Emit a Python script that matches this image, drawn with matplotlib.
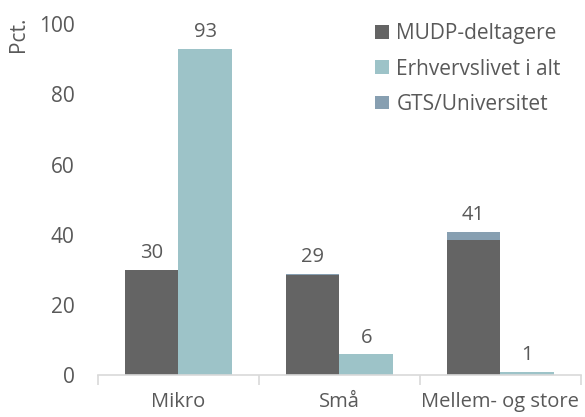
import numpy as np
import matplotlib.pyplot as plt

plt.rcParams["font.family"] = ["Open Sans", "DejaVu Sans"]

categories = ["Mikro", "Små", "Mellem- og store"]
mudp = [30, 28.5, 38.5]
gts = [0, 0.4, 2.3]
erhverv = [93, 6, 1]
mudp_labels = ["30", "29", "41"]
erhverv_labels = ["93", "6", "1"]

c_mudp = "#646464"
c_erhverv = "#9dc3c8"
c_gts = "#879fb1"
txt = "#595959"

fig = plt.figure(figsize=(5.85, 4.17), dpi=100)
ax = fig.add_axes([0.1675, 0.1, 0.8255, 0.8424])

x = np.arange(len(categories))
w = 1 / 3
ax.bar(x - w / 2, mudp, w, color=c_mudp, label="MUDP-deltagere")
ax.bar(x + w / 2, erhverv, w, color=c_erhverv, label="Erhvervslivet i alt")
ax.bar(x - w / 2, gts, w, bottom=mudp, color=c_gts, label="GTS/Universitet")

for i in range(len(categories)):
    top = mudp[i] + gts[i]
    ax.annotate(mudp_labels[i], (x[i] - w / 2, top), xytext=(0, 12),
                textcoords="offset points", ha="center", va="center",
                fontsize=14.5, color=txt)
    ax.annotate(erhverv_labels[i], (x[i] + w / 2, erhverv[i]), xytext=(0, 12),
                textcoords="offset points", ha="center", va="center",
                fontsize=14.5, color=txt)

ax.set_xlim(-0.5, 2.5)
ax.set_ylim(0, 100)
ax.set_yticks(range(0, 101, 20))
ax.set_xticks(x)
ax.set_xticklabels(categories)
ax.tick_params(axis="x", length=0, labelsize=14.5, labelcolor=txt, pad=12)
ax.tick_params(axis="y", length=0, labelsize=15, labelcolor=txt, pad=17)
ax.set_xticks([-0.5, 0.5, 1.5, 2.5], minor=True)
ax.tick_params(axis="x", which="minor", length=7, color="#d9d9d9", width=1.2)

for s in ["top", "right", "left"]:
    ax.spines[s].set_visible(False)
ax.spines["bottom"].set_color("#d9d9d9")
ax.spines["bottom"].set_linewidth(1.2)

fig.text(0.031, 0.918, "Pct.", rotation=90, ha="center", va="center", fontsize=15, color=txt)

leg = ax.legend(loc="upper right", bbox_to_anchor=(0.997, 1.055), frameon=False,
                fontsize=15, labelcolor=txt, handlelength=0.65, handleheight=0.65,
                handletextpad=0.35, labelspacing=0.68)

fig.savefig("out.png", dpi=100)
